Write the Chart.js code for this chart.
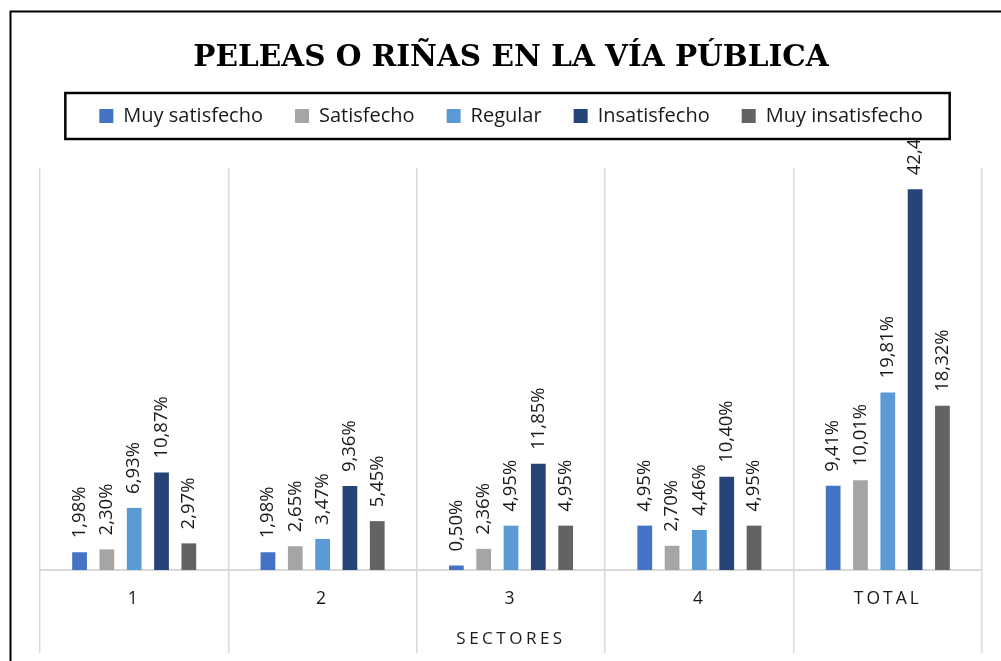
<!DOCTYPE html>
<html>
<head>
<meta charset="utf-8">
<script src="https://cdn.jsdelivr.net/npm/chart.js"></script>
<style>
  html, body { margin: 0; padding: 0; background: #fff; }
</style>
</head>
<body>
<canvas id="rinasChart" width="1001" height="661"></canvas>

<script>
  // data
  const sectores = ['1', '2', '3', '4', 'TOTAL'];
  const muySatisfecho   = [1.98, 1.98, 0.50, 4.95, 9.41];
  const satisfecho      = [2.30, 2.65, 2.36, 2.70, 10.01];
  const regular         = [6.93, 3.47, 4.95, 4.46, 19.81];
  const insatisfecho    = [10.87, 9.36, 11.85, 10.40, 42.48];
  const muyInsatisfecho = [2.97, 5.45, 4.95, 4.95, 18.32];

  const FONT = '"Open Sans", "Noto Sans", sans-serif';

  // category axis that draws its labels and title letter-spaced (Excel look)
  class SpacedCategory extends Chart.CategoryScale {
    drawLabels(area) {
      this.ctx.save();
      this.ctx.letterSpacing = '3px';
      super.drawLabels(area);
      this.ctx.restore();
    }
    drawTitle() {
      this.ctx.save();
      this.ctx.letterSpacing = '3.5px';
      super.drawTitle();
      this.ctx.restore();
    }
  }
  SpacedCategory.id = 'spacedCategory';
  SpacedCategory.defaults = Chart.CategoryScale.defaults;
  Chart.register(SpacedCategory);

  const pct = v => v.toFixed(2).replace('.', ',') + '%';

  // white page + the black outer frame
  const frame = {
    id: 'frame',
    beforeDraw(chart) {
      const ctx = chart.ctx;
      ctx.save();
      ctx.fillStyle = '#fff';
      ctx.fillRect(0, 0, chart.width, chart.height);
      ctx.restore();
    },
    afterDraw(chart) {
      const ctx = chart.ctx;
      ctx.save();
      ctx.strokeStyle = '#000';
      ctx.lineWidth = 2;
      ctx.beginPath();
      ctx.moveTo(10.5, chart.height);
      ctx.lineTo(10.5, 11.5);
      ctx.lineTo(chart.width, 11.5);
      ctx.stroke();

      // box round the legend
      const boxes = chart.legend.legendHitBoxes;
      if (boxes.length) {
        const left = Math.min(...boxes.map(b => b.left)) - 34;
        const right = Math.max(...boxes.map(b => b.left + b.width)) + 27;
        const mid = boxes[0].top + boxes[0].height / 2;
        ctx.lineWidth = 2.5;
        ctx.strokeRect(left, mid - 23, right - left, 46);
      }
      ctx.restore();
    }
  };

  // rotated value labels above the bars
  const barLabels = {
    id: 'barLabels',
    afterDatasetsDraw(chart) {
      const ctx = chart.ctx;
      const boxes = chart.legend.legendHitBoxes;
      const clipTop = boxes.length ? boxes[0].top + boxes[0].height / 2 + 24 : 0;
      ctx.save();
      ctx.beginPath();
      ctx.rect(0, clipTop, chart.width, chart.height - clipTop);
      ctx.clip();
      ctx.font = '18.5px ' + FONT;
      ctx.fillStyle = '#1a1a1a';
      ctx.textAlign = 'left';
      ctx.textBaseline = 'middle';
      chart.data.datasets.forEach((ds, i) => {
        chart.getDatasetMeta(i).data.forEach((bar, j) => {
          ctx.save();
          ctx.translate(bar.x, bar.y - 14);
          ctx.rotate(-Math.PI / 2);
          ctx.fillText(pct(ds.data[j]), 0, 0);
          ctx.restore();
        });
      });
      ctx.restore();
    }
  };

  new Chart(document.getElementById('rinasChart'), {
    type: 'bar',
    data: {
      labels: sectores,
      datasets: [
        { label: 'Muy satisfecho', data: muySatisfecho, backgroundColor: '#4472C4' },
        { label: 'Satisfecho', data: satisfecho, backgroundColor: '#A5A5A5' },
        { label: 'Regular', data: regular, backgroundColor: '#5B9BD5' },
        { label: 'Insatisfecho', data: insatisfecho, backgroundColor: '#264478' },
        { label: 'Muy insatisfecho', data: muyInsatisfecho, backgroundColor: '#636363' }
      ]
    },
    options: {
      responsive: false,
      animation: false,
      events: [],
      datasets: {
        bar: { categoryPercentage: 0.725, barPercentage: 0.54, borderWidth: 0 }
      },
      layout: { padding: { top: 12, left: 40, right: 19, bottom: 0 } },
      plugins: {
        title: {
          display: true,
          text: 'PELEAS O RIÑAS EN LA VÍA PÚBLICA',
          color: '#000',
          font: { family: '"DejaVu Serif", serif', size: 29.5, weight: 'bold', lineHeight: 1 },
          padding: { top: 31.25, bottom: 1.25 }
        },
        legend: {
          position: 'top',
          labels: {
            color: '#1a1a1a',
            font: { family: FONT, size: 20 },
            boxWidth: 14,
            boxHeight: 14,
            padding: 32
          }
        },
        // empty spacer between legend and plot
        subtitle: {
          display: true,
          text: '',
          position: 'top',
          weight: 500,
          font: { size: 1, lineHeight: 1 },
          padding: { top: 0, bottom: 31 }
        },
        tooltip: { enabled: false }
      },
      scales: {
        x: {
          type: 'spacedCategory',
          grid: {
            display: true,
            offset: true,
            color: '#d9d9d9',
            lineWidth: 1.5,
            drawTicks: true,
            tickLength: 83
          },
          border: { display: true, color: '#d9d9d9', width: 2 },
          ticks: {
            color: '#1a1a1a',
            font: { family: FONT, size: 17.5, lineHeight: 1.2 },
            padding: -64.5
          },
          title: {
            display: true,
            text: 'SECTORES',
            color: '#1a1a1a',
            font: { family: FONT, size: 17, lineHeight: 1.2 },
            padding: { top: 83.8, bottom: 11.8 }
          }
        },
        y: {
          display: false,
          min: 0,
          max: 44.85
        }
      }
    },
    plugins: [frame, barLabels]
  });
</script>
</body>
</html>
